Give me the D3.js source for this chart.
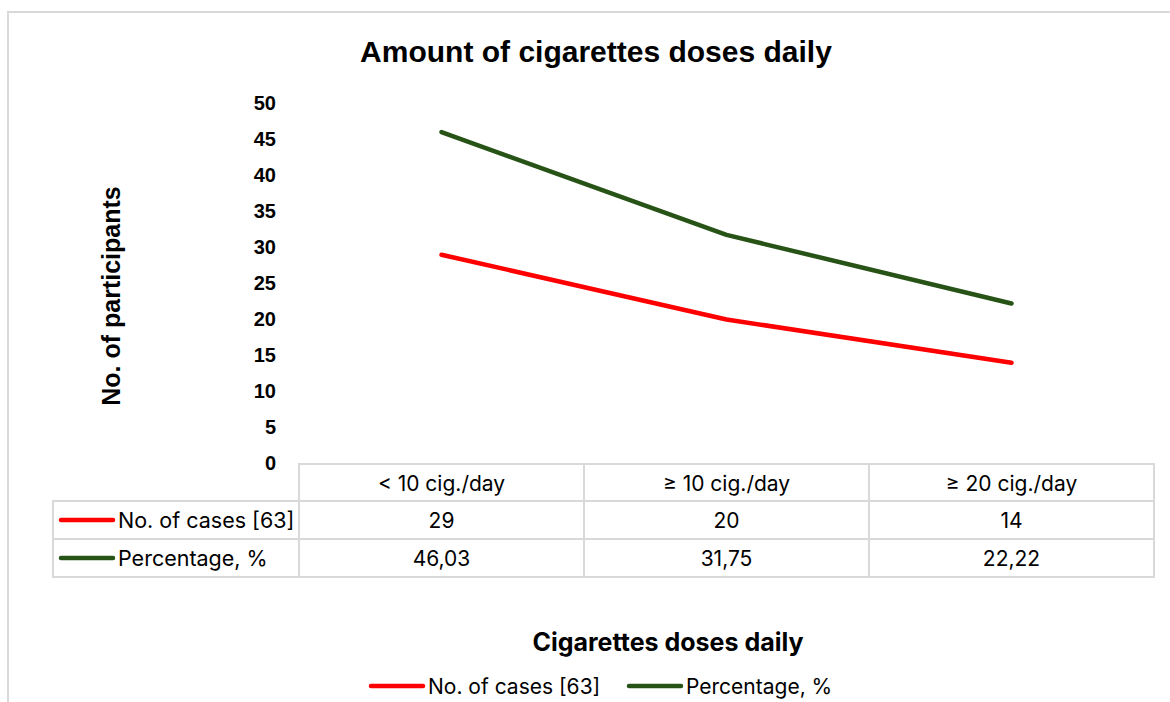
<!DOCTYPE html>
<html>
<head>
<meta charset="utf-8">
<script src="https://cdn.jsdelivr.net/npm/d3@7"></script>
<style>
  html, body { margin: 0; padding: 0; background: #fff; }
  svg { display: block; }
</style>
</head>
<body>
<div id="chart"></div>
<script>
// Amount of cigarettes doses daily - line chart with data table

const categories = ['< 10 cig./day', '\u2265 10 cig./day', '\u2265 20 cig./day'];
const casesValues = [29, 20, 14];
const percentValues = [46.03, 31.75, 22.22];
const percentLabels = ['46,03', '31,75', '22,22'];
const yTicks = [0, 5, 10, 15, 20, 25, 30, 35, 40, 45, 50];

const series = [
    {name: 'No. of cases [63]', values: casesValues, labels: casesValues.map(String), color: '#ff0000'},
    {name: 'Percentage, %', values: percentValues, labels: percentLabels, color: '#275317'}
];

const W = 1170, H = 702;
const gridColor = '#d9d9d9';
const bodyFont = 'Inter, "Open Sans", sans-serif';
const boldFont = '"Liberation Sans", Arial, sans-serif';

const svg = d3.select('#chart').append('svg')
    .attr('width', W)
    .attr('height', H);

// chart frame
svg.append('rect')
    .attr('x', 8).attr('y', 12)
    .attr('width', W + 20).attr('height', H + 20)
    .attr('fill', 'none')
    .attr('stroke', gridColor)
    .attr('stroke-width', 2);

// scales
const xScale = d3.scaleBand()
    .domain(categories)
    .range([299, 1154]);

const yScale = d3.scaleLinear()
    .domain([0, 50])
    .range([463.5, 103.5]);

// title
svg.append('text')
    .attr('x', 596).attr('y', 62)
    .attr('text-anchor', 'middle')
    .style('font-family', boldFont)
    .style('font-size', '30px')
    .style('font-weight', 'bold')
    .text('Amount of cigarettes doses daily');

// y axis (labels only)
const yAxis = svg.append('g')
    .attr('transform', 'translate(276,0)')
    .call(d3.axisLeft(yScale).tickValues(yTicks).tickSize(0).tickPadding(0));
yAxis.select('.domain').remove();
yAxis.selectAll('text')
    .style('font-family', boldFont)
    .style('font-size', '20px')
    .style('font-weight', 'bold')
    .attr('fill', '#000');

// y axis title
svg.append('text')
    .attr('transform', 'translate(120,296) rotate(-90)')
    .attr('text-anchor', 'middle')
    .style('font-family', boldFont)
    .style('font-size', '25px')
    .style('font-weight', 'bold')
    .text('No. of participants');

// lines
const line = d3.line()
    .x((d, i) => xScale(categories[i]) + xScale.bandwidth() / 2)
    .y(d => yScale(d));

svg.selectAll('.series-line')
    .data(series)
    .enter()
    .append('path')
    .attr('class', 'series-line')
    .attr('d', d => line(d.values))
    .attr('fill', 'none')
    .attr('stroke', d => d.color)
    .attr('stroke-width', 4.5)
    .attr('stroke-linecap', 'round')
    .attr('stroke-linejoin', 'round');

// data table
const rowTop = [464, 501, 539];
const rowBottom = 577;
const tableLeft = 53;
const table = svg.append('g');

// header row cells
table.selectAll('.head-cell')
    .data(categories)
    .enter()
    .append('rect')
    .attr('x', d => xScale(d))
    .attr('y', rowTop[0])
    .attr('width', xScale.bandwidth())
    .attr('height', rowTop[1] - rowTop[0])
    .attr('fill', 'none')
    .attr('stroke', gridColor)
    .attr('stroke-width', 2);

table.selectAll('.head-text')
    .data(categories)
    .enter()
    .append('text')
    .attr('x', d => xScale(d) + xScale.bandwidth() / 2)
    .attr('y', (rowTop[0] + rowTop[1]) / 2 + 8)
    .attr('text-anchor', 'middle')
    .style('font-family', bodyFont)
    .style('font-size', '21px')
    .text(d => d);

// series rows
series.forEach((s, r) => {
    const y0 = rowTop[r + 1];
    const y1 = r + 2 < rowTop.length ? rowTop[r + 2] : rowBottom;
    const cy = (y0 + y1) / 2;

    table.append('rect')
        .attr('x', tableLeft).attr('y', y0)
        .attr('width', 299 - tableLeft).attr('height', y1 - y0)
        .attr('fill', 'none')
        .attr('stroke', gridColor)
        .attr('stroke-width', 2);

    table.append('line')
        .attr('x1', 61).attr('x2', 113)
        .attr('y1', cy).attr('y2', cy)
        .attr('stroke', s.color)
        .attr('stroke-width', 4.5)
        .attr('stroke-linecap', 'round');

    table.append('text')
        .attr('x', 118).attr('y', cy + 8)
        .style('font-family', bodyFont)
        .style('font-size', '21.5px')
        .text(s.name);

    categories.forEach((c, i) => {
        table.append('rect')
            .attr('x', xScale(c)).attr('y', y0)
            .attr('width', xScale.bandwidth()).attr('height', y1 - y0)
            .attr('fill', 'none')
            .attr('stroke', gridColor)
            .attr('stroke-width', 2);
        table.append('text')
            .attr('x', xScale(c) + xScale.bandwidth() / 2)
            .attr('y', cy + 8)
            .attr('text-anchor', 'middle')
            .style('font-family', bodyFont)
            .style('font-size', '21px')
            .text(s.labels[i]);
    });
});

// x axis title
svg.append('text')
    .attr('x', 668).attr('y', 651)
    .attr('text-anchor', 'middle')
    .style('font-family', bodyFont)
    .style('font-size', '25px')
    .style('font-weight', 'bold')
    .text('Cigarettes doses daily');

// legend
const legendX = [371, 629];
const legend = svg.append('g');
series.forEach((s, i) => {
    legend.append('line')
        .attr('x1', legendX[i]).attr('x2', legendX[i] + 52)
        .attr('y1', 686).attr('y2', 686)
        .attr('stroke', s.color)
        .attr('stroke-width', 4.5)
        .attr('stroke-linecap', 'round');
    legend.append('text')
        .attr('x', legendX[i] + 57).attr('y', 694)
        .style('font-family', bodyFont)
        .style('font-size', '21px')
        .text(s.name);
});
</script>
</body>
</html>
